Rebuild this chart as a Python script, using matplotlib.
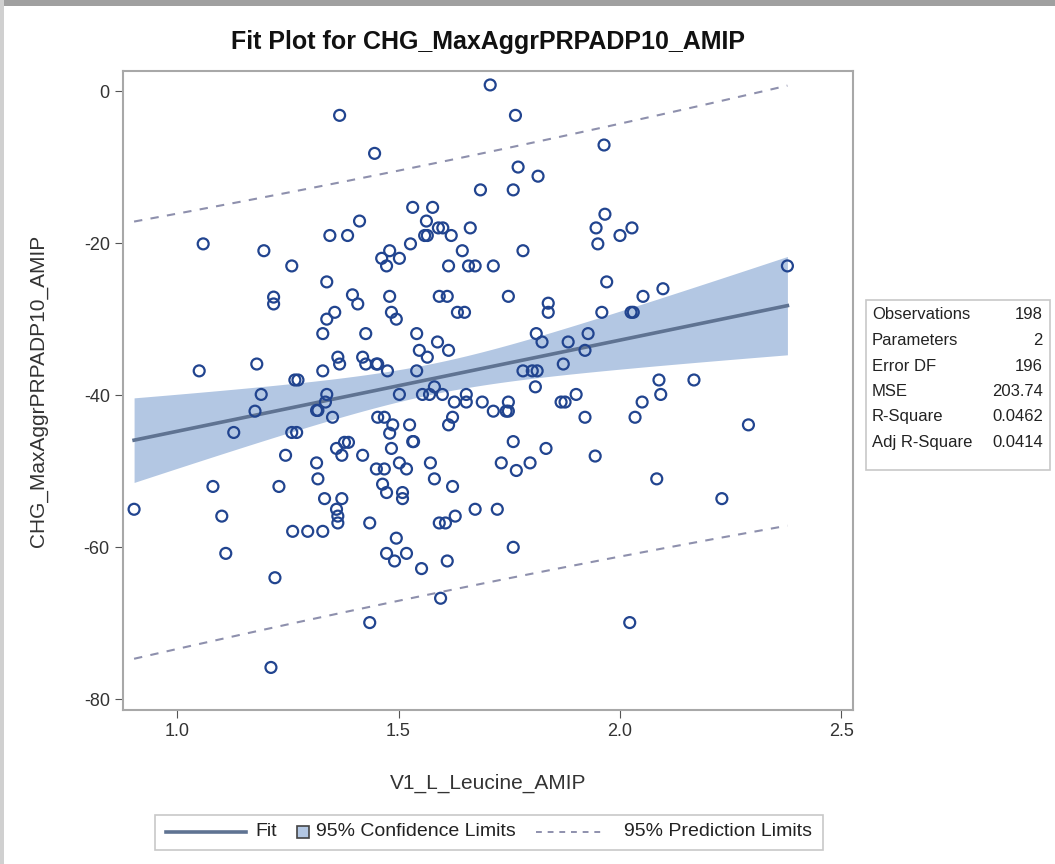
import matplotlib

matplotlib.use("Agg")
import matplotlib.pyplot as plt
import numpy as np
from matplotlib.lines import Line2D
from matplotlib.patches import Rectangle

plt.rcParams["axes.unicode_minus"] = False
plt.rcParams["font.family"] = ["Liberation Sans Narrow", "Liberation Sans", "DejaVu Sans"]

title = "Fit Plot for CHG_MaxAggrPRPADP10_AMIP"
x_label = "V1_L_Leucine_AMIP"
y_label = "CHG_MaxAggrPRPADP10_AMIP"

# points
leucine = [
    1.707, 1.367, 1.764, 1.446, 1.964, 1.770, 1.815, 1.685, 1.759, 1.532,
    1.577, 1.563, 1.412, 1.590, 1.600, 1.559, 1.565, 1.619, 1.662, 1.527,
    1.480, 1.462, 1.473, 1.502, 1.644, 1.613, 1.658, 1.673, 1.714, 1.781,
    1.946, 1.966, 1.950, 1.970, 2.000, 2.027, 2.097, 2.378, 2.052, 1.345,
    1.385, 1.059, 1.196, 1.259, 1.338, 1.218, 1.218, 1.396, 1.408, 1.356,
    1.338, 1.329, 1.426, 1.050, 1.180, 1.363, 1.367, 1.419, 1.426, 1.329,
    1.266, 1.273, 1.190, 1.176, 1.338, 1.335, 1.315, 1.318, 1.351, 1.128,
    1.259, 1.270, 1.360, 1.378, 1.387, 1.372, 1.419, 1.245, 1.315, 1.318,
    1.081, 1.230, 1.333, 1.372, 1.480, 1.592, 1.610, 1.748, 1.484, 1.495,
    1.633, 1.649, 1.838, 1.838, 1.959, 1.541, 1.588, 1.547, 1.565, 1.613,
    1.811, 1.824, 1.883, 1.928, 1.921, 1.872, 1.450, 1.453, 1.475, 1.541,
    1.781, 1.802, 1.813, 1.809, 1.502, 1.554, 1.570, 1.581, 1.599, 1.653,
    1.653, 1.626, 1.689, 1.714, 1.748, 1.743, 1.748, 1.867, 1.876, 1.901,
    1.921, 1.453, 1.468, 1.487, 1.480, 1.525, 1.622, 1.613, 1.532, 1.534,
    1.484, 1.759, 1.833, 1.944, 1.502, 1.518, 1.450, 1.468, 1.572, 1.581,
    1.622, 1.732, 1.766, 1.797, 1.464, 1.473, 1.509, 1.509, 2.025, 2.030,
    2.088, 2.092, 2.167, 2.050, 2.034, 2.290, 2.083, 2.230, 0.903, 1.101,
    1.110, 1.221, 1.212, 1.360, 1.363, 1.363, 1.261, 1.295, 1.329, 1.435,
    1.435, 1.495, 1.473, 1.491, 1.518, 1.552, 1.592, 1.606, 1.628, 1.673,
    1.723, 1.759, 1.610, 1.595, 2.022,
]
change = [
    0.8, -3.2, -3.2, -8.2, -7.1, -10.0, -11.2, -13.0, -13.0, -15.3,
    -15.3, -17.1, -17.1, -18.0, -18.0, -19.0, -19.0, -19.0, -18.0, -20.1,
    -21.0, -22.0, -23.0, -22.0, -21.0, -23.0, -23.0, -23.0, -23.0, -21.0,
    -18.0, -16.2, -20.1, -25.1, -19.0, -18.0, -26.0, -23.0, -27.0, -19.0,
    -19.0, -20.1, -21.0, -23.0, -25.1, -27.1, -28.0, -26.8, -28.0, -29.1,
    -30.0, -31.9, -31.9, -36.8, -35.9, -35.0, -35.9, -35.0, -35.9, -36.8,
    -38.0, -38.0, -39.9, -42.1, -39.9, -40.9, -42.0, -42.0, -42.9, -44.9,
    -44.9, -44.9, -47.0, -46.2, -46.2, -47.9, -47.9, -47.9, -48.9, -51.0,
    -52.0, -52.0, -53.6, -53.6, -27.0, -27.0, -27.0, -27.0, -29.1, -30.0,
    -29.1, -29.1, -27.9, -29.1, -29.1, -31.9, -33.0, -34.1, -35.0, -34.1,
    -31.9, -33.0, -33.0, -31.9, -34.1, -35.9, -35.9, -35.9, -36.8, -36.8,
    -36.8, -36.8, -36.8, -38.9, -39.9, -39.9, -39.9, -38.9, -39.9, -39.9,
    -40.9, -40.9, -40.9, -42.1, -40.9, -42.1, -42.1, -40.9, -40.9, -39.9,
    -42.9, -42.9, -42.9, -43.9, -45.0, -43.9, -42.9, -43.9, -46.1, -46.1,
    -47.0, -46.1, -47.0, -48.0, -48.9, -49.7, -49.7, -49.7, -48.9, -51.0,
    -52.0, -48.9, -49.9, -48.9, -51.7, -52.8, -52.8, -53.6, -29.1, -29.1,
    -38.0, -39.9, -38.0, -40.9, -42.9, -43.9, -51.0, -53.6, -55.0, -55.9,
    -60.8, -64.0, -75.8, -55.0, -55.9, -56.8, -57.9, -57.9, -57.9, -56.8,
    -69.9, -58.8, -60.8, -61.8, -60.8, -62.8, -56.8, -56.8, -55.9, -55.0,
    -55.0, -60.0, -61.8, -66.7, -69.9,
]

stat_names = ["Observations", "Parameters", "Error DF", "MSE", "R-Square", "Adj R-Square"]
stat_values = ["198", "2", "196", "203.74", "0.0462", "0.0414"]

x_ticks = [1.0, 1.5, 2.0, 2.5]
y_ticks = [0, -20, -40, -60, -80]

legend_labels = ["Fit", "95% Confidence Limits", "95% Prediction Limits"]

marker_color = "#21448f"
fit_color = "#5f7392"
band_color = "#b3c7e3"
pred_color = "#8e90ad"

# ordinary least squares fit with 95% limits
x = np.array(leucine)
y = np.array(change)
n = len(x)
slope, intercept = np.polyfit(x, y, 1)
resid = y - (intercept + slope * x)
mse = np.sum(resid ** 2) / (n - 2)
t_crit = 1.972
sxx = np.sum((x - x.mean()) ** 2)
grid = np.linspace(x.min(), x.max(), 200)
fit = intercept + slope * grid
se_mean = np.sqrt(mse * (1 / n + (grid - x.mean()) ** 2 / sxx))
se_pred = np.sqrt(mse * (1 + 1 / n + (grid - x.mean()) ** 2 / sxx))

W, H = 1055, 864
fig = plt.figure(figsize=(W / 100, H / 100), dpi=100)
fig.patch.set_facecolor("white")
ax = fig.add_axes([0.1166, 0.1782, 0.6919, 0.7396])

ax.fill_between(grid, fit - t_crit * se_mean, fit + t_crit * se_mean,
                color=band_color, linewidth=0, zorder=1)
ax.plot(grid, fit, color=fit_color, linewidth=2.6, zorder=2)
ax.plot(grid, fit + t_crit * se_pred, color=pred_color, linewidth=1.5,
        linestyle=(0, (4, 4)), zorder=2)
ax.plot(grid, fit - t_crit * se_pred, color=pred_color, linewidth=1.5,
        linestyle=(0, (4, 4)), zorder=2)
ax.scatter(x, y, s=62, facecolors="none", edgecolors=marker_color,
           linewidths=1.6, zorder=3)

ax.set_xlim(0.878, 2.526)
ax.set_ylim(-81.4, 2.63)
ax.set_xticks(x_ticks)
ax.set_xticklabels([f"{v:.1f}" for v in x_ticks])
ax.set_yticks(y_ticks)
ax.tick_params(labelsize=13, color="#555555", labelcolor="#333333", length=6)
for spine in ax.spines.values():
    spine.set_color("#a8a8a8")
    spine.set_linewidth(1.5)

ax.set_xlabel(x_label, fontsize=15, color="#333333", labelpad=24)
ax.set_ylabel(y_label, fontsize=15, color="#333333", labelpad=26)
fig.text(0.4625, 1 - 42 / H, title, ha="center", va="center",
         fontsize=18, fontweight="bold", color="#111111")

# statistics box
fig.add_artist(Rectangle((866 / W, 1 - 470 / H), 184 / W, 170 / H,
                         transform=fig.transFigure, facecolor="white",
                         edgecolor="#c8c8c8", linewidth=1.2))
for i, (name, value) in enumerate(zip(stat_names, stat_values)):
    yy = 1 - (315 + i * 25.5) / H
    fig.text(872 / W, yy, name, ha="left", va="center", fontsize=12, color="#222222")
    fig.text(1043 / W, yy, value, ha="right", va="center", fontsize=12, color="#222222")

# legend laid out by hand, in pixels, so the swatch sits next to its label
renderer = fig.canvas.get_renderer()
leg_y = 1 - 832 / H


def add_text(px, label):
    t = fig.text(px / W, leg_y, label, ha="left", va="center", fontsize=14, color="#222222")
    return px + t.get_window_extent(renderer).width


items = []
cur = 0.0
items.append(("line", cur, cur + 80)); cur += 90
t_fit = fig.text(0, 0, legend_labels[0], fontsize=14)
w_fit = t_fit.get_window_extent(renderer).width; t_fit.remove()
items.append(("text", cur, legend_labels[0])); cur += w_fit + 20
items.append(("square", cur, cur + 12)); cur += 19
t_ci = fig.text(0, 0, legend_labels[1], fontsize=14)
w_ci = t_ci.get_window_extent(renderer).width; t_ci.remove()
items.append(("text", cur, legend_labels[1])); cur += w_ci + 20
items.append(("dash", cur, cur + 68)); cur += 88
t_pi = fig.text(0, 0, legend_labels[2], fontsize=14)
w_pi = t_pi.get_window_extent(renderer).width; t_pi.remove()
items.append(("text", cur, legend_labels[2])); cur += w_pi

pad = 11
x0 = 489 - (cur + 2 * pad) / 2 + pad
fig.add_artist(Rectangle(((x0 - pad) / W, 1 - 850 / H), (cur + 2 * pad) / W, 35 / H,
                         transform=fig.transFigure, facecolor="white",
                         edgecolor="#c8c8c8", linewidth=1.2))
for kind, start, extra in items:
    if kind == "line":
        fig.add_artist(Line2D([(x0 + start) / W, (x0 + extra) / W], [leg_y, leg_y],
                              transform=fig.transFigure, color=fit_color, linewidth=2.6))
    elif kind == "dash":
        fig.add_artist(Line2D([(x0 + start) / W, (x0 + extra) / W], [leg_y, leg_y],
                              transform=fig.transFigure, color=pred_color, linewidth=1.4,
                              linestyle=(0, (3, 3))))
    elif kind == "square":
        fig.add_artist(Rectangle(((x0 + start) / W, leg_y - 6 / H), 12 / W, 12 / H,
                                 transform=fig.transFigure, facecolor=band_color,
                                 edgecolor="#444444", linewidth=1.2))
    else:
        add_text(x0 + start, extra)

# screenshot border
fig.add_artist(Rectangle((0, 1 - 6 / H), 1, 6 / H, transform=fig.transFigure,
                         facecolor="#a0a0a0", edgecolor="none"))
fig.add_artist(Rectangle((0, 0), 4 / W, 1, transform=fig.transFigure,
                         facecolor="#d0d0d0", edgecolor="none"))

fig.savefig("out.png", dpi=100)
